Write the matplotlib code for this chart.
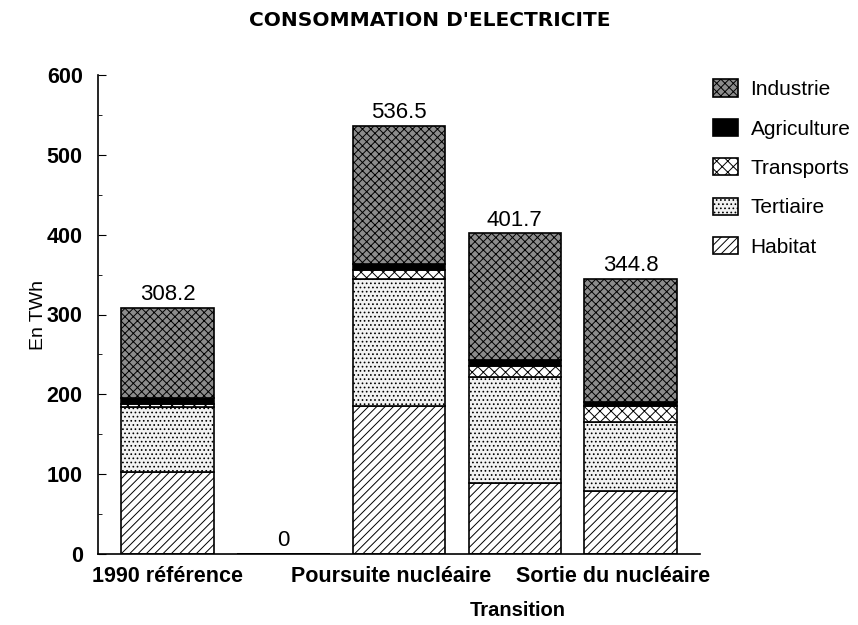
import matplotlib.pyplot as plt
import numpy as np

plt.rcParams['font.family'] = ['Liberation Sans', 'DejaVu Sans']
plt.rcParams['hatch.linewidth'] = 0.7

# donnees (TWh)
categories = ['1990 référence', '', 'Poursuite nucléaire', '', 'Sortie du nucléaire']
habitat = [103, 0, 185, 89, 79]
tertiaire = [81, 0, 160, 133, 86]
transports = [4, 0, 11, 14, 20]
agriculture = [7, 0, 7, 7, 6]
industrie = [113.2, 0, 173.5, 158.7, 153.8]
totals = ['308.2', '0', '536.5', '401.7', '344.8']

series = [
    ('Habitat', habitat, 'white', '////'),
    ('Tertiaire', tertiaire, '#f2f2f2', '....'),
    ('Transports', transports, 'white', 'xxx'),
    ('Agriculture', agriculture, 'black', None),
    ('Industrie', industrie, '#8c8c8c', 'xxxx'),
]

fig = plt.figure(figsize=(8.58, 6.25), dpi=100)
ax = fig.add_axes([0.1142, 0.1136, 0.7018, 0.7664])

x = np.arange(len(categories))
bottom = np.zeros(len(categories))
handles = {}
for name, vals, fc, hatch in series:
    vals = np.array(vals, dtype=float)
    b = ax.bar(x, vals, 0.8, bottom=bottom, color=fc, edgecolor='black',
               hatch=hatch, linewidth=1.2, label=name)
    handles[name] = b
    bottom = bottom + vals

for i, t in enumerate(totals):
    ax.annotate(t, (x[i], bottom[i]), xytext=(0, 2), textcoords='offset points',
                ha='center', va='bottom', fontsize=16)

ax.set_xlim(-0.6, 4.6)
ax.set_ylim(0, 600)
ax.set_yticks(range(0, 601, 100))
ax.set_yticks(range(50, 600, 100), minor=True)
# les libelles ne sont pas tout a fait centres sous les barres
ax.set_xticks([0, 1.93, 3.85])
ax.set_xticklabels(['1990 référence', 'Poursuite nucléaire', 'Sortie du nucléaire'])
for lab in ax.get_xticklabels() + ax.get_yticklabels():
    lab.set_fontweight('bold')
    lab.set_fontsize(15.5)
ax.tick_params(axis='x', length=0, pad=9)
ax.tick_params(axis='y', which='major', length=6, direction='in', pad=11)
ax.tick_params(axis='y', which='minor', length=3, direction='in')
ax.spines['top'].set_visible(False)
ax.spines['right'].set_visible(False)
ax.spines['left'].set_linewidth(1.2)
ax.spines['bottom'].set_linewidth(1.2)

ax.set_ylabel('En TWh', fontsize=14, labelpad=0)
fig.text(0.603, 0.024, 'Transition', ha='center', va='center', fontsize=14.5,
         fontweight='bold')
fig.text(0.501, 0.968, "CONSOMMATION D'ELECTRICITE", ha='center', va='center',
         fontsize=14.5, fontweight='bold', family='DejaVu Sans')

order = ['Industrie', 'Agriculture', 'Transports', 'Tertiaire', 'Habitat']
fig.legend([handles[n] for n in order], order, loc='upper left',
           bbox_to_anchor=(0.831, 0.873), frameon=False, fontsize=15,
           borderpad=0, borderaxespad=0,
           handlelength=1.2, handleheight=0.9, labelspacing=0.94, handletextpad=0.6)

fig.savefig('out.png', dpi=100)
